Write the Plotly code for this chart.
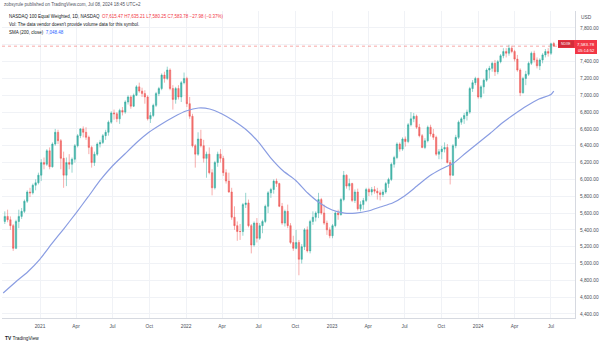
import pandas as pd
import plotly.graph_objects as go

# ---------------- data (weekly candles) ----------------
week_start = "2020-10-05"
n_weeks = 197
dates = pd.date_range(week_start, periods=n_weeks, freq="7D")

opens = [
    5500,5560,5520,5450,5180,5500,5560,5620,5740,5850,
    5840,5930,5960,6050,6200,6180,6340,6150,6420,6560,
    6460,6250,6050,6200,6180,6240,6400,6520,6600,6560,
    6500,6380,6200,6300,6420,6440,6520,6560,6680,6790,
    6780,6720,6820,6800,6920,6980,6870,7000,7100,7050,
    7020,6980,6720,6760,6880,7020,7080,7240,7200,7300,
    7080,6950,7080,6980,7150,7200,6900,6750,6400,6300,
    6480,6400,6250,6300,6080,5900,6200,6300,6250,6080,
    5980,5850,5550,5450,5380,5380,5700,5720,5450,5220,
    5480,5300,5450,5500,5680,5840,5880,5980,5950,5680,
    5480,5620,5450,5250,5180,5250,5050,5200,5400,5150,
    5500,5550,5600,5760,5600,5480,5400,5330,5450,5600,
    5580,5760,6050,5920,5950,5750,5850,5650,5700,5750,
    5880,5850,5880,5860,5840,5820,5850,5950,6000,6180,
    6260,6420,6360,6480,6450,6650,6720,6750,6620,6520,
    6380,6460,6620,6540,6500,6300,6330,6360,6380,6200,
    6050,6400,6500,6680,6720,6760,6800,7080,7150,7200,
    6980,7100,7180,7300,7320,7380,7280,7400,7470,7520,
    7500,7560,7520,7430,7300,7030,7200,7250,7380,7500,
    7420,7350,7420,7480,7520,7500,7615.47,
]
highs = [
    5620,5640,5560,5470,5520,5640,5660,5760,5870,5900,
    5950,6000,6080,6240,6260,6360,6380,6440,6600,6590,
    6480,6330,6260,6300,6260,6420,6540,6610,6630,6620,
    6520,6400,6330,6440,6470,6540,6590,6700,6810,6830,
    6800,6840,6860,6940,7000,7000,7020,7120,7150,7090,
    7060,7000,6800,6900,7040,7100,7260,7280,7340,7320,
    7120,7100,7120,7170,7270,7220,6980,6780,6420,6560,
    6590,6470,6330,6380,6120,6220,6330,6360,6280,6120,
    6080,5900,5680,5500,5470,5720,5840,5760,5470,5500,
    5540,5480,5520,5700,5860,5900,6000,6010,5960,5720,
    5640,5700,5480,5330,5400,5280,5230,5420,5440,5520,
    5620,5620,5840,5780,5700,5510,5430,5470,5620,5640,
    5780,6100,6060,6010,5960,5880,5890,5740,5780,5900,
    5900,5910,5920,5900,5870,5880,5970,6020,6200,6280,
    6440,6440,6500,6510,6670,6800,6790,6770,6660,6540,
    6490,6640,6650,6600,6520,6360,6400,6440,6420,6230,
    6420,6530,6700,6740,6790,6830,7100,7180,7220,7210,
    7120,7200,7320,7350,7400,7420,7420,7490,7560,7560,
    7600,7590,7540,7480,7320,7220,7290,7400,7520,7530,
    7450,7440,7500,7550,7560,7625,7635.21,
]
lows = [
    5470,5490,5400,5150,5170,5420,5530,5600,5720,5790,
    5820,5870,5940,5980,6120,6160,6120,6140,6400,6420,
    6120,5900,5920,6120,6080,6200,6380,6490,6500,6470,
    6300,6140,6160,6280,6380,6420,6470,6520,6660,6710,
    6680,6660,6760,6780,6890,6840,6860,6990,7030,6980,
    6900,6700,6670,6740,6860,6990,7060,7150,7180,7060,
    6830,6900,6950,6920,7130,6860,6720,6380,6140,6280,
    6380,6200,6020,6060,5810,5880,6150,6200,6040,5950,
    5840,5520,5400,5270,5280,5330,5660,5430,5120,5200,
    5250,5280,5360,5480,5600,5780,5830,5910,5670,5460,
    5440,5420,5230,5150,5170,4860,5000,5160,5130,5120,
    5460,5500,5540,5580,5460,5340,5300,5300,5430,5520,
    5570,5740,5890,5870,5730,5720,5630,5620,5640,5730,
    5800,5810,5830,5760,5750,5790,5830,5900,5980,6140,
    6240,6330,6340,6390,6430,6630,6680,6600,6500,6370,
    6360,6440,6510,6470,6280,6240,6240,6320,6190,5940,
    6040,6370,6480,6650,6660,6700,6780,7040,7120,6960,
    6960,7020,7160,7200,7280,7230,7250,7380,7440,7450,
    7470,7500,7400,7280,6990,7020,7120,7230,7360,7390,
    7320,7300,7380,7450,7460,7480,7580.25,
]
closes = [
    5560,5520,5450,5180,5500,5560,5620,5740,5850,5840,
    5930,5960,6050,6200,6180,6340,6150,6420,6560,6460,
    6250,6050,6200,6180,6240,6400,6520,6600,6560,6500,
    6380,6200,6300,6420,6440,6520,6560,6680,6790,6780,
    6720,6820,6800,6920,6980,6870,7000,7100,7050,7020,
    6980,6720,6760,6880,7020,7080,7240,7200,7300,7080,
    6950,7080,6980,7150,7200,6900,6750,6400,6300,6480,
    6400,6250,6300,6080,5900,6200,6300,6250,6080,5980,
    5850,5550,5450,5380,5380,5700,5720,5450,5220,5480,
    5300,5450,5500,5680,5840,5880,5980,5950,5680,5480,
    5620,5450,5250,5180,5250,5050,5200,5400,5150,5500,
    5550,5600,5760,5600,5480,5400,5330,5450,5600,5580,
    5760,6050,5920,5950,5750,5850,5650,5700,5750,5880,
    5850,5880,5860,5840,5820,5850,5950,6000,6180,6260,
    6420,6360,6480,6450,6650,6720,6750,6620,6520,6380,
    6460,6620,6540,6500,6300,6330,6360,6380,6200,6050,
    6400,6500,6680,6720,6760,6800,7080,7150,7200,6980,
    7100,7180,7300,7320,7380,7280,7400,7470,7520,7500,
    7560,7520,7430,7300,7030,7200,7250,7380,7500,7420,
    7350,7420,7480,7520,7500,7611.76,7583.78,
]

# SMA(200, close), monthly
sma_dates = list(pd.date_range("2020-10-01", "2024-07-01", freq="MS").strftime("%Y-%m-%d")) + ["2024-07-08"]
sma_values = [
    4649, 4780, 4899,
    5053, 5244, 5410, 5600, 5791, 5993, 6159, 6302, 6444, 6563, 6659, 6742,
    6813, 6849, 6837, 6778, 6694, 6587, 6444, 6254, 6100, 5993, 5838, 5719,
    5636, 5600, 5600, 5624, 5672, 5719, 5803, 5921, 6040, 6124, 6195, 6314,
    6433, 6551, 6670, 6778, 6873, 6956, 7010, 7048.48,
]

last_price = 7583.78
x_tick_dates = ["2021-01-01", "2021-04-01", "2021-07-01", "2021-10-01",
                "2022-01-01", "2022-04-01", "2022-07-01", "2022-10-01",
                "2023-01-01", "2023-04-01", "2023-07-01", "2023-10-01",
                "2024-01-01", "2024-04-01", "2024-07-01"]
x_tick_text = ["2021", "Apr", "Jul", "Oct", "2022", "Apr", "Jul", "Oct",
               "2023", "Apr", "Jul", "Oct", "2024", "Apr", "Jul"]
y_ticks = list(range(4400, 7801, 200))
# the 7,600 label sits under the red last-price tag
y_tick_text = ["" if v == 7600 else f"{v:,.2f}" for v in y_ticks]

# ---------------- layout geometry ----------------
W, H = 605, 345
PL, PR, PT, PB = 2, 575, 11, 318
FONT = "Liberation Sans"


def px(x):
    return (x - PL) / (PR - PL)


def py(y):
    return (PB - y) / (PB - PT)


fig = go.Figure()
fig.add_trace(go.Candlestick(
    x=dates, open=opens, high=highs, low=lows, close=closes,
    increasing=dict(line=dict(color="rgba(38,166,154,0.8)", width=0.6),
                    fillcolor="rgba(38,166,154,0.8)"),
    decreasing=dict(line=dict(color="rgba(239,83,80,0.8)", width=0.6),
                    fillcolor="rgba(239,83,80,0.8)"),
    whiskerwidth=0, showlegend=False, hoverinfo="skip",
))
fig.add_trace(go.Scatter(
    x=sma_dates, y=sma_values, mode="lines",
    line=dict(color="#8a9de2", width=1.2, shape="spline", smoothing=0.6),
    showlegend=False, hoverinfo="skip",
))

fig.update_layout(
    width=W, height=H,
    margin=dict(l=PL, r=W - PR, t=PT, b=H - PB),
    paper_bgcolor="white", plot_bgcolor="white",
    font=dict(family=FONT, size=5, color="#131722"),
    showlegend=False,
    xaxis=dict(
        type="date", range=["2020-09-28", "2024-08-30"],
        rangeslider=dict(visible=False),
        tickvals=x_tick_dates, ticktext=x_tick_text,
        tickfont=dict(size=4.8, color="#4a4e59"),
        showgrid=True, gridcolor="#f0f2f6", gridwidth=1,
        showline=True, linecolor="#d6d9e0", linewidth=1,
        ticks="outside", ticklen=3, tickcolor="rgba(0,0,0,0)",
        zeroline=False, fixedrange=True,
    ),
    yaxis=dict(
        side="right", range=[4352, 8002],
        tickvals=y_ticks, ticktext=y_tick_text,
        tickfont=dict(size=4.8, color="#4a4e59"),
        showgrid=True, gridcolor="#f0f2f6", gridwidth=1,
        showline=True, linecolor="#d6d9e0", linewidth=1,
        ticks="outside", ticklen=3, tickcolor="rgba(0,0,0,0)",
        zeroline=False, fixedrange=True,
    ),
)

# last price dotted line
fig.add_shape(type="line", xref="paper", yref="y", x0=0, x1=1,
              y0=last_price, y1=last_price,
              line=dict(color="rgba(239,83,80,0.5)", width=1, dash="dot"))

# red price label on the scale
fig.add_shape(type="rect", xref="paper", yref="paper",
              x0=px(558), x1=px(597), y0=py(48), y1=py(40),
              fillcolor="#f23645", line=dict(width=0), layer="above")
fig.add_shape(type="rect", xref="paper", yref="paper",
              x0=px(558), x1=px(574), y0=py(47.5), y1=py(40.5),
              fillcolor="#d42c3a", line=dict(width=0), layer="above")
fig.add_shape(type="rect", xref="paper", yref="paper",
              x0=px(575), x1=px(597), y0=py(54), y1=py(48),
              fillcolor="#f23645", line=dict(width=0), layer="above")

ann = []


def text(x, y, s, size=5, color="#131722", xanchor="left"):
    ann.append(dict(x=px(x), y=py(y), xref="paper", yref="paper", text=s,
                    showarrow=False, xanchor=xanchor, yanchor="middle",
                    font=dict(size=size, color=color, family=FONT)))


text(566, 44, "NDXE", size=3.4, color="white", xanchor="center")
text(586, 44, "7,583.78", size=4.4, color="white", xanchor="center")
text(586, 51, "05:14:52", size=4.2, color="white", xanchor="center")

text(2, 5, "zobsyrule published on TradingView.com, Jul 08, 2024 18:45 UTC+2",
     size=4.5, color="#50535e")
text(7, 16,
     "NASDAQ 100 Equal Weighted, 1D, NASDAQ  "
     "<span style='color:#f23645'>O7,615.47 H7,635.21 L7,580.25 C7,583.78 \u221227.98 (\u22120.37%)</span>",
     size=4.5, color="#131722")
text(7, 24, "Vol: The data vendor doesn't provide volume data for this symbol.",
     size=4.5, color="#131722")
text(7, 32, "SMA (200, close)  <span style='color:#2962ff'>7,048.48</span>",
     size=4.5, color="#131722")
text(586, 17, "USD", size=4.8, color="#4a4e59", xanchor="center")
text(3, 338, "<b>TV</b> TradingView", size=4.8, color="#131722")

fig.update_layout(annotations=ann)
fig.write_html("out.html")
